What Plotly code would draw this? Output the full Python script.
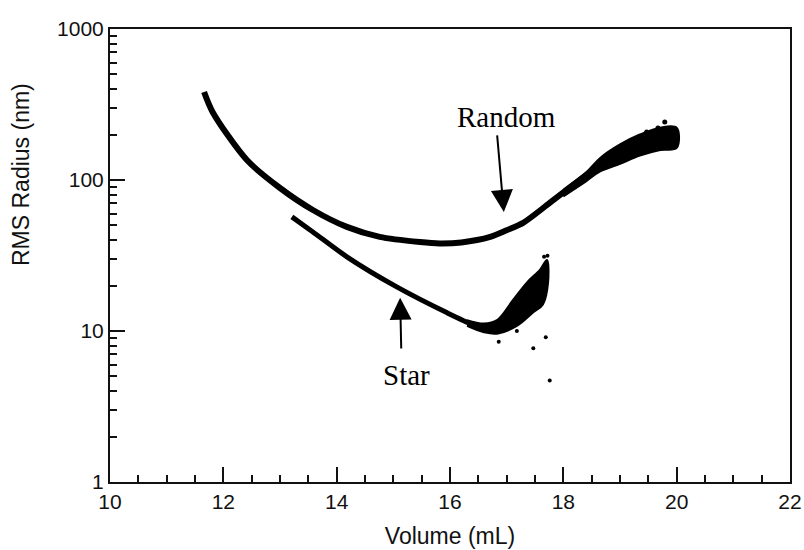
import numpy as np
import plotly.graph_objects as go

# ---- data ----
random_x = [11.66, 11.82, 12.42, 13.0, 13.58, 14.18, 14.76, 15.47, 15.82, 16.2, 16.71, 17.0, 17.29, 17.76, 18.29, 18.77, 19.35, 19.88, 20.0]
random_y = [383, 278, 135, 88.5, 63.3, 48.9, 42.0, 38.8, 38.0, 38.6, 42, 46.5, 52, 70.5, 100, 135, 176, 200, 190]

random_band_x = [18.0, 18.4, 18.65, 19.0, 19.35, 19.71, 20.0, 20.0, 19.71, 19.35, 19.0, 18.65, 18.4, 18.0]
random_band_y = [86, 112, 140, 172, 200, 222, 222, 163, 158, 145, 128, 114, 98, 78]
random_out_x = [19.79, 19.47, 19.67]
random_out_y = [242, 208, 221]

star_x = [13.21, 13.58, 14.18, 15.06, 15.95, 16.41, 16.71, 17.0, 17.29, 17.53, 17.71]
star_y = [57, 45.3, 31, 19.6, 13.2, 11, 10.2, 11.3, 16, 20.8, 25]

star_band_x = [16.3, 16.6, 16.83, 17.11, 17.36, 17.59, 17.71, 17.73, 17.64, 17.46, 17.18, 16.83, 16.6, 16.3]
star_band_y = [11.8, 11.2, 11.8, 16.0, 21.0, 25.5, 29.5, 20.8, 15.0, 13.2, 10.8, 9.6, 9.8, 10.8]
star_out_x = [16.86, 17.47, 17.69, 17.76, 17.18, 17.72, 17.66]
star_out_y = [8.5, 7.7, 9.1, 4.7, 10.0, 31.5, 31.0]

x_ticks = [10, 12, 14, 16, 18, 20, 22]
y_ticks = [1, 10, 100, 1000]
y_ticktext = ["1", "10", "100", "1000"]

fig = go.Figure()

ink = "#000000"
fig.add_trace(go.Scatter(x=random_band_x, y=random_band_y, fill="toself", mode="lines",
                         line=dict(color=ink, width=2, shape="spline"), fillcolor=ink,
                         hoverinfo="skip", showlegend=False))
fig.add_trace(go.Scatter(x=random_x, y=random_y, mode="lines",
                         line=dict(color=ink, width=6, shape="spline", smoothing=0.8),
                         showlegend=False))
fig.add_trace(go.Scatter(x=random_out_x, y=random_out_y, mode="markers",
                         marker=dict(color=ink, size=5), showlegend=False))

fig.add_trace(go.Scatter(x=star_band_x, y=star_band_y, fill="toself", mode="lines",
                         line=dict(color=ink, width=2, shape="spline"), fillcolor=ink,
                         hoverinfo="skip", showlegend=False))
fig.add_trace(go.Scatter(x=star_x, y=star_y, mode="lines",
                         line=dict(color=ink, width=5, shape="spline", smoothing=0.8),
                         showlegend=False))
fig.add_trace(go.Scatter(x=star_out_x, y=star_out_y, mode="markers",
                         marker=dict(color=ink, size=4), showlegend=False))

axis_font = dict(family="Liberation Sans, Arial, sans-serif", size=21, color="#111")
title_font = dict(family="Liberation Sans, Arial, sans-serif", size=23, color="#111")
serif = dict(family="Liberation Serif, Times New Roman, serif", size=29, color="#000")

fig.update_layout(
    width=804, height=550,
    margin=dict(l=110, r=14, t=29, b=68, autoexpand=False),
    paper_bgcolor="white", plot_bgcolor="white",
    font=axis_font,
    xaxis=dict(range=[10, 22], tickvals=x_ticks, ticks="inside", ticklen=15, tickwidth=1.5,
               tickcolor="#111", showline=True, linecolor="#111", linewidth=2, mirror=True,
               showgrid=False, zeroline=False, tickfont=axis_font, automargin=False,
               ticklabeloverflow="allow",
               minor=dict(dtick=0.5, ticks="inside", ticklen=7, tickwidth=1.5, tickcolor="#111", showgrid=False),
               title=dict(text="Volume (mL)", font=title_font, standoff=16)),
    yaxis=dict(type="log", range=[0, 3], tickvals=y_ticks, ticktext=y_ticktext, ticks="inside",
               ticklen=15, tickwidth=1.5, tickcolor="#111", showline=True, linecolor="#111",
               linewidth=2, mirror=True, showgrid=False, zeroline=False, tickfont=axis_font,
               automargin=False, ticklabeloverflow="allow",
               minor=dict(tickvals=[v * m for m in (1, 10, 100) for v in range(2, 10)],
                          ticks="inside", ticklen=7, tickwidth=1.5, tickcolor="#111", showgrid=False)),
)

fig.add_annotation(text="RMS Radius (nm)", xref="paper", yref="paper", x=-0.13, y=0.679,
                   textangle=-90, showarrow=False, font=title_font, xanchor="center", yanchor="middle")

fig.add_annotation(text="Random", x=16.99, y=2.417, xref="x", yref="y", showarrow=False, font=serif)
fig.add_annotation(text="Star", x=15.24, y=0.709, xref="x", yref="y", showarrow=False, font=serif)

fig.add_annotation(text="", x=16.95, y=np.log10(61.4), ax=16.83, ay=np.log10(202),
                   xref="x", yref="y", axref="x", ayref="y", showarrow=True,
                   arrowhead=2, arrowsize=2.2, arrowwidth=2, arrowcolor="#000")
fig.add_annotation(text="", x=15.12, y=np.log10(16.6), ax=15.14, ay=np.log10(7.48),
                   xref="x", yref="y", axref="x", ayref="y", showarrow=True,
                   arrowhead=2, arrowsize=2.2, arrowwidth=2, arrowcolor="#000")

fig.write_html("out.html")
